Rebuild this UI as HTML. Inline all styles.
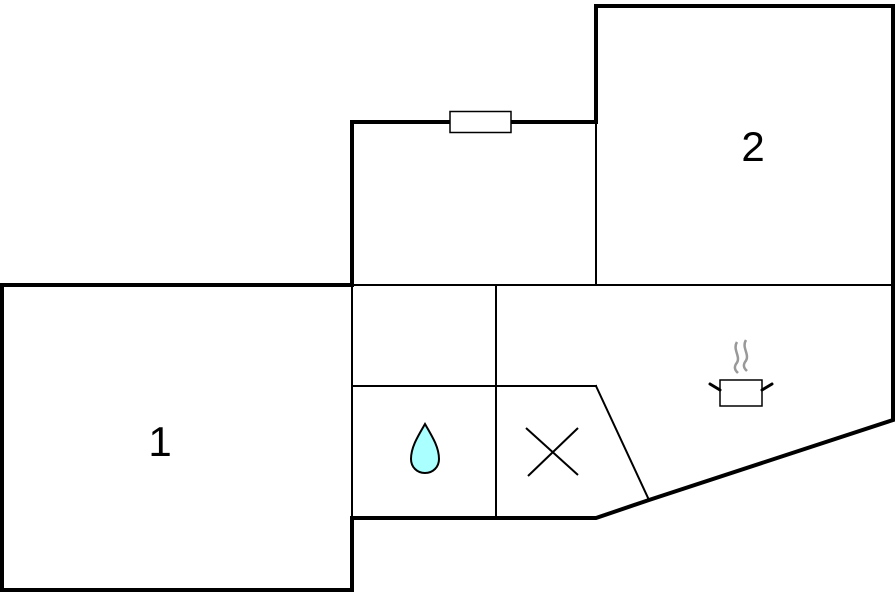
<!DOCTYPE html>
<html><head><meta charset="utf-8"><style>html,body{margin:0;padding:0;background:#fff}svg{display:block}</style></head>
<body>
<svg width="896" height="597" viewBox="0 0 896 597" xmlns="http://www.w3.org/2000/svg">
<g fill="none" stroke="#000" stroke-linejoin="miter" stroke-linecap="square">
<g stroke-width="2">
<line x1="352" y1="285" x2="893" y2="285"/>
<line x1="596" y1="122" x2="596" y2="285"/>
<line x1="496" y1="285" x2="496" y2="518"/>
<line x1="352" y1="386" x2="596" y2="386"/>
<line x1="596" y1="386" x2="649" y2="500"/>
<line x1="352" y1="285" x2="352" y2="518"/>
</g>
<g stroke-width="4">
<polyline points="352,285 2,285 2,590 352,590 352,518 596,518 649,500 893,420 893,6 596,6 596,122 352,122 352,285"/>
</g>
</g>
<rect x="450" y="111.5" width="61" height="21" fill="#fff" stroke="#000" stroke-width="1.5"/>
<path d="M425,424 C432,436 439,447 439,459 C439,467 433,473 425,473 C417,473 411,467 411,459 C411,447 418,436 425,424 Z" fill="#aaffff" stroke="#000" stroke-width="2"/>
<g stroke="#000" stroke-width="2">
<line x1="526" y1="428" x2="578" y2="475"/>
<line x1="578" y1="428" x2="528" y2="476"/>
</g>
<rect x="720" y="380" width="42" height="26" fill="#fff" stroke="#000" stroke-width="1.5"/>
<g stroke="#000" stroke-width="3" stroke-linecap="round">
<line x1="710" y1="384" x2="720" y2="390"/>
<line x1="772" y1="384" x2="762" y2="390"/>
</g>
<g fill="none" stroke="#999" stroke-width="2.5">
<path d="M737,342 C732,350 742,357 736,364 C733,369 737,372 738,373"/>
<path d="M746,340 C741,348 751,355 745,362 C742,367 746,370 747,371"/>
</g>
<g font-family="Liberation Sans, sans-serif" font-size="42" fill="#000" text-anchor="middle">
<text x="160" y="456">1</text>
<text x="753" y="161">2</text>
</g>
</svg>
</body></html>
